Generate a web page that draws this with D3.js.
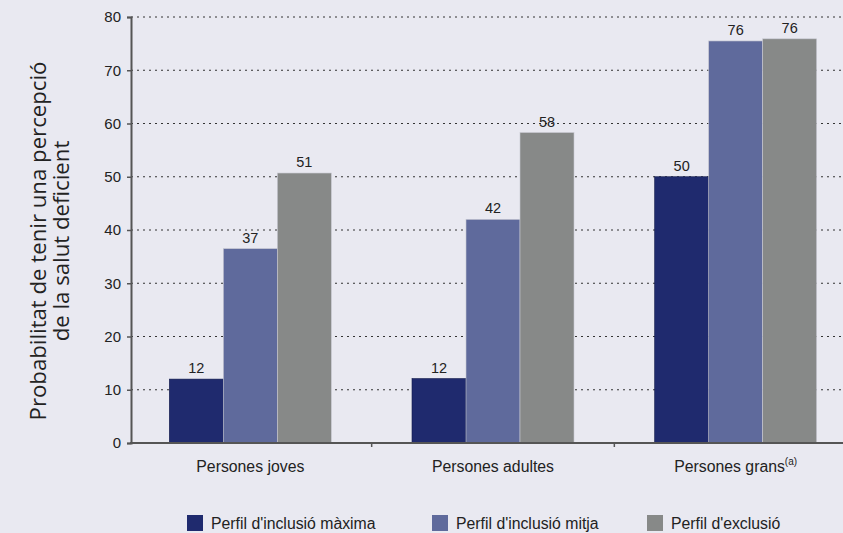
<!DOCTYPE html>
<html><head><meta charset="utf-8">
<script src="https://cdn.jsdelivr.net/npm/d3@7"></script>
<style>
html,body{margin:0;padding:0;background:#e9e9f1;}
svg{display:block;font-family:"Liberation Sans",Arial,sans-serif;}
</style></head>
<body>
<svg id="c" width="843" height="533"></svg>
<script>
const categories = ["Persones joves", "Persones adultes", "Persones grans"];
const seriesNames = ["Perfil d'inclusió màxima", "Perfil d'inclusió mitja", "Perfil d'exclusió"];
const maxima = [12.0, 12.1, 50.0];
const mitja = [36.5, 42.0, 75.5];
const exclusio = [50.7, 58.3, 75.9];
const labelsMaxima = ["12", "12", "50"];
const labelsMitja = ["37", "42", "76"];
const labelsExclusio = ["51", "58", "76"];
const yTicks = [0, 10, 20, 30, 40, 50, 60, 70, 80];
const colors = ["#1f2a6e", "#5f6a9c", "#878988"];

const series = [maxima, mitja, exclusio];
const labels = [labelsMaxima, labelsMitja, labelsExclusio];

const svg = d3.select("#c");
const x0 = d3.scaleBand().domain(categories).range([129, 857]).paddingInner(0).paddingOuter(0);
const x1 = d3.scaleBand().domain([0,1,2]).range([0, 162]);
const y = d3.scaleLinear().domain([0, 80]).range([443, 17]);

// gridlines
svg.append("g").selectAll("line").data(yTicks.filter(d => d > 0)).join("line")
  .attr("x1", 131).attr("x2", 843).attr("y1", d => y(d)).attr("y2", d => y(d))
  .attr("stroke", "#333").attr("stroke-width", 1).attr("stroke-dasharray", "2,4");

// bars
const groups = svg.append("g").selectAll("g").data(categories).join("g")
  .attr("transform", c => `translate(${x0(c) + (x0.bandwidth() - 162) / 2},0)`);
groups.each(function(c, gi) {
  const g = d3.select(this);
  series.forEach((s, si) => {
    g.append("rect")
      .attr("x", x1(si)).attr("width", x1.bandwidth())
      .attr("y", y(s[gi])).attr("height", y(0) - y(s[gi]))
      .attr("fill", colors[si])
      .attr("stroke", si === 0 ? "#111a4a" : "#c8c9d2").attr("stroke-width", 0.6);
    g.append("text")
      .attr("x", x1(si) + x1.bandwidth() / 2).attr("y", y(s[gi]) - 6)
      .attr("text-anchor", "middle").attr("font-size", 14.5).attr("fill", "#222")
      .text(labels[si][gi]);
  });
});

// y axis
const yAxis = d3.axisLeft(y).tickValues(yTicks).tickSize(4).tickPadding(6);
const ya = svg.append("g").attr("transform", "translate(131,0)").call(yAxis);
ya.select(".domain").attr("stroke", "#555").attr("stroke-width", 2);
ya.selectAll(".tick line").attr("stroke", "#555").attr("stroke-width", 1.5);
ya.selectAll(".tick text").attr("font-size", 15).attr("fill", "#222").attr("font-family", "Liberation Sans, Arial, sans-serif");

// x axis
svg.append("line").attr("x1", 130).attr("x2", 843).attr("y1", y(0)).attr("y2", y(0))
  .attr("stroke", "#555").attr("stroke-width", 2);
svg.append("g").selectAll("line").data(categories.slice(1)).join("line")
  .attr("x1", c => x0(c)).attr("x2", c => x0(c)).attr("y1", y(0)).attr("y2", y(0) + 4)
  .attr("stroke", "#555").attr("stroke-width", 1.5);
const xl = svg.append("g").selectAll("text").data(categories).join("text")
  .attr("x", c => x0(c) + x0.bandwidth() / 2).attr("y", 472)
  .attr("text-anchor", "middle").attr("font-size", 15.8).attr("fill", "#222");
xl.text(c => c);
xl.filter((c, i) => i === 2).append("tspan").attr("font-size", 10).attr("dy", -7).text("(a)");

// y title
const yt = svg.append("text").attr("transform", "translate(46,241) rotate(-90)")
  .attr("text-anchor", "middle").attr("font-size", 22.2).attr("fill", "#222")
  .attr("font-family", "'Open Sans', sans-serif");
yt.append("tspan").attr("x", 0).attr("dy", 0).text("Probabilitat de tenir una percepció");
yt.append("tspan").attr("x", 0).attr("dy", 23).text("de la salut deficient");

// legend
const legX = [187, 432, 647];
const leg = svg.append("g").selectAll("g").data(seriesNames).join("g")
  .attr("transform", (d, i) => `translate(${legX[i]},515)`);
leg.append("rect").attr("width", 16).attr("height", 16).attr("fill", (d, i) => colors[i]);
leg.append("text").attr("x", 24).attr("y", 13.5).attr("font-size", 15.8).attr("fill", "#222").text(d => d);
</script>
</body></html>
